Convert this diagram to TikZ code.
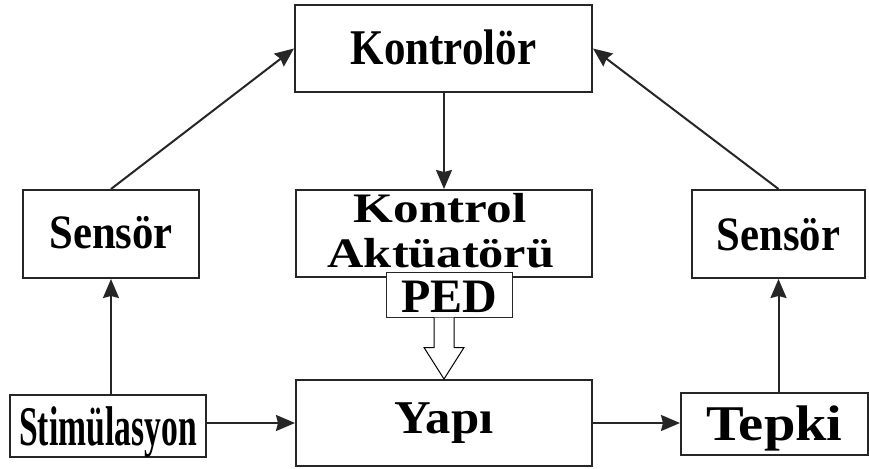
\documentclass[tikz,border=0pt]{standalone}
\usepackage{fontspec}
\setmainfont{Liberation Serif}
\usetikzlibrary{arrows.meta,calc}
\newcommand\mylbl[3]{\scalebox{#2}[1]{\fontsize{#1}{#1}\selectfont\bfseries #3}}
\begin{document}
\begin{tikzpicture}[x=1pt,y=-1pt,
  box/.style={draw=black!85, line width=2pt, inner sep=0pt, fill=white, text depth=0pt},
  arr/.style={draw=black!85, line width=2pt, -{Stealth[length=19pt,width=16pt,inset=2pt]}}]
\useasboundingbox (0,0) rectangle (869,468);
\node[box, minimum width=297pt, minimum height=87pt, text height=33pt] (ctrl) at (443.5,48.5) {\mylbl{50pt}{0.86}{Kontrolör}};
\node[box, minimum width=176pt, minimum height=88pt, text height=29pt] (lsens) at (111,234) {\mylbl{48pt}{0.89}{Sensör}};
\node[box, minimum width=173pt, minimum height=88pt, text height=32pt] (rsens) at (778.5,234) {\mylbl{48pt}{0.89}{Sensör}};
\node[box, minimum width=296pt, minimum height=87pt] (act) at (444,233.5) {};
\node[anchor=base, inner sep=0pt] (actA) at (440,222) {\mylbl{42pt}{1.22}{Kontrol}};
\node[anchor=base, inner sep=0pt] (actB) at (441,267) {\mylbl{42pt}{1.2}{Aktüatörü}};
\node[box, line width=1pt, minimum width=126pt, minimum height=45pt, text height=35pt] (ped) at (449,294.5) {\mylbl{48pt}{1.0}{PED}};
\node[box, minimum width=296pt, minimum height=86pt, text height=20pt] (yapi) at (444,423) {\mylbl{47pt}{1.08}{Yapı}};
\node[box, minimum width=196pt, minimum height=62pt, text height=38pt] (stim) at (108,426) {\mylbl{56pt}{0.60}{Stimülasyon}};
\node[box, minimum width=187pt, minimum height=62pt, text height=32pt] (tepki) at (774.5,424) {\mylbl{50pt}{1.13}{Tepki}};
% connectors
\draw[arr] (stim.north -| lsens.south) -- (lsens.south);
\draw[arr] (tepki.north -| rsens.south) -- (rsens.south);
\draw[arr] (lsens.north) -- (ctrl.west);
\draw[arr] (rsens.north) -- (ctrl.east);
\draw[arr] (ctrl.south -| act.north) -- (act.north);
\draw[arr] (yapi.west -| stim.east) -- (yapi.west);
\draw[arr] (yapi.east) -- (yapi.east -| tepki.west);
% hollow arrow from PED to Yapi
\coordinate (hb) at (ped.south -| yapi.north);
\draw[line width=1pt, fill=white] ($(hb)+(-10,0)$) -- ($(hb)+(-10,30)$) -- ($(hb)+(-20,30)$) -- (yapi.north) -- ($(hb)+(20,30)$) -- ($(hb)+(10,30)$) -- ($(hb)+(10,0)$);
\end{tikzpicture}
\end{document}
